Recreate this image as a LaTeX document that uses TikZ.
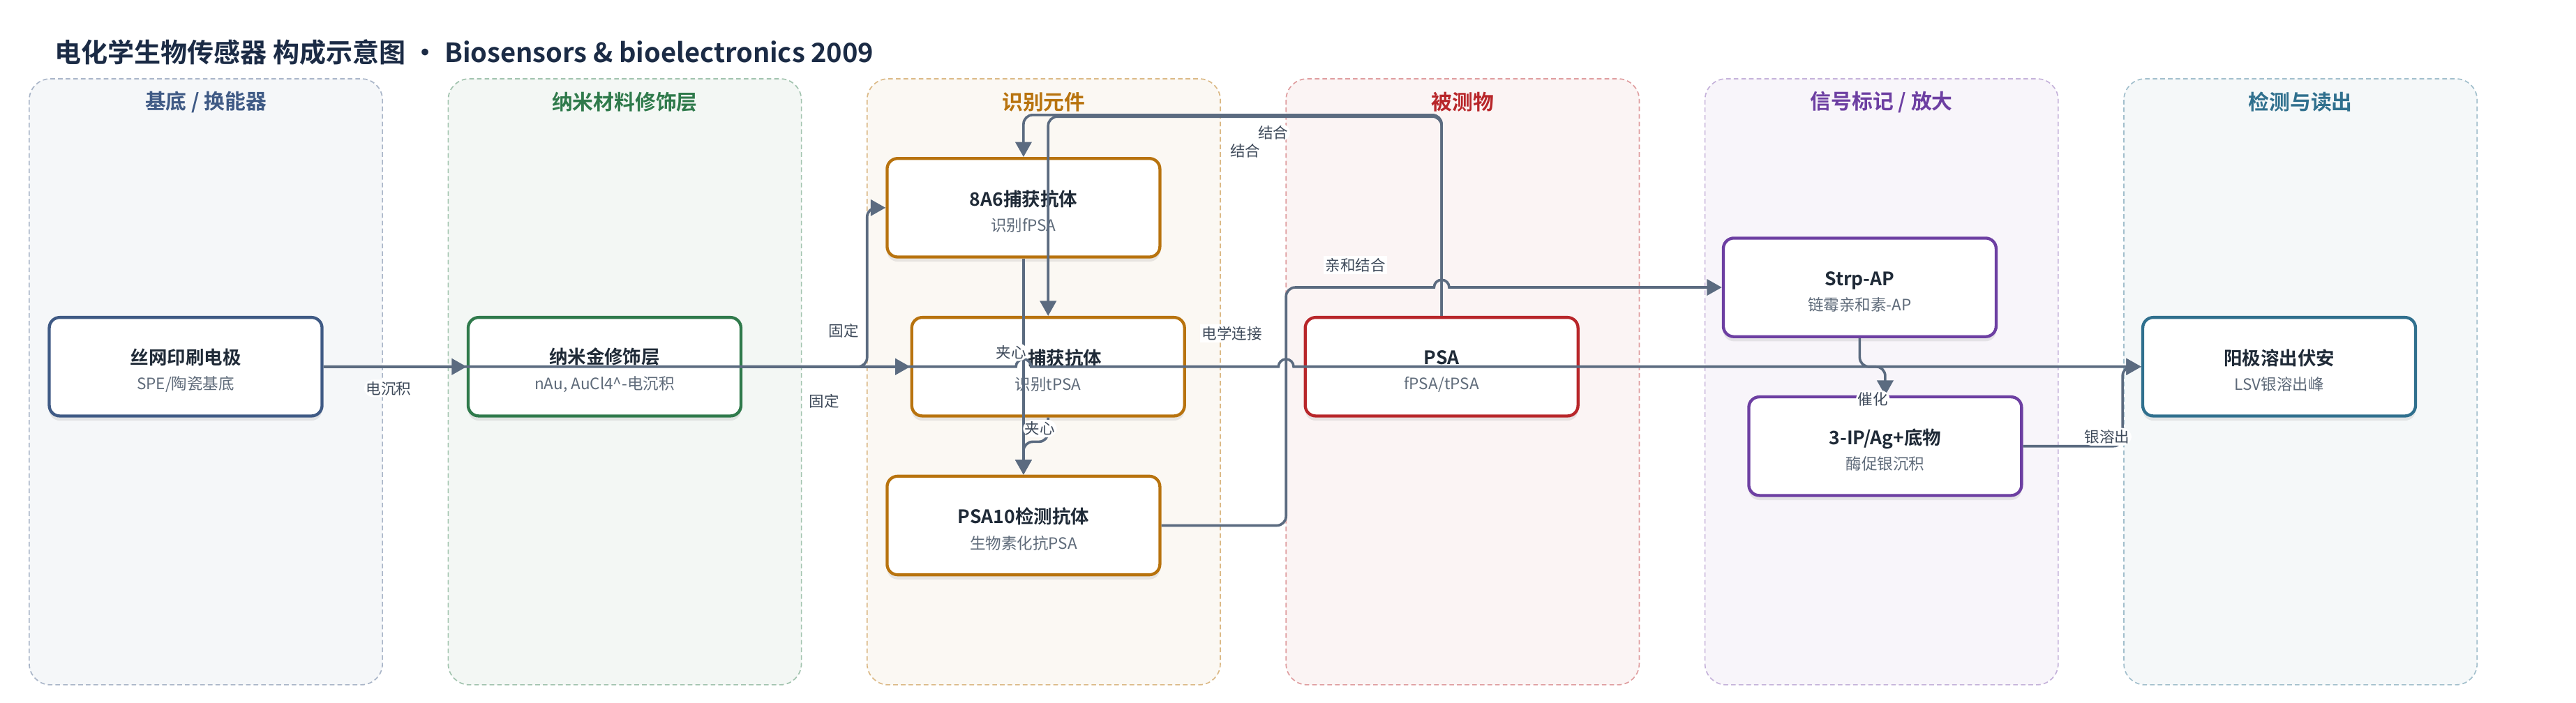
\documentclass[tikz,border=0pt]{standalone}
\usepackage{fontspec}
\setmainfont{Noto Sans CJK SC}[BoldFont={Noto Sans CJK SC Bold}]
\usetikzlibrary{arrows.meta,shadows}
\definecolor{edgec}{HTML}{5B6B80}
\definecolor{labelc}{HTML}{3E4A5A}
\definecolor{headc}{HTML}{1B2B45}
\definecolor{titlec}{HTML}{1F2A37}
\definecolor{subc}{HTML}{5F6B7A}
\definecolor{baseC}{HTML}{3F5A85}
\definecolor{nanoC}{HTML}{2F7A4B}
\definecolor{recoC}{HTML}{B8730E}
\definecolor{anaC}{HTML}{B8262A}
\definecolor{sigC}{HTML}{6D3FA2}
\definecolor{readC}{HTML}{30708E}
\tikzset{
  lane/.style={dash pattern=on 2pt off 1.3pt, line width=0.5pt, rounded corners=0.32cm},
  lanetitle/.style={font=\fontsize{9}{10}\selectfont\bfseries},
  box/.style={draw, fill=white, line width=1.3pt, rounded corners=0.16cm,
    minimum width=4.15cm, minimum height=1.5cm, align=center, inner sep=0pt,
    font=\fontsize{6.8}{9}\selectfont,
    drop shadow={shadow xshift=0pt, shadow yshift=-2pt, opacity=0.16}},
  wire/.style={draw=edgec, line width=1.1pt, rounded corners=4pt},
  tip/.style={-{Triangle[length=6.5pt,width=7pt]}},
  lbl/.style={fill=white, inner sep=0.8pt, text=labelc, font=\fontsize{6.5}{7}\selectfont},
}
\newcommand{\boxtext}[2]{\rule{0pt}{10pt}{\fontsize{8}{9}\selectfont\bfseries\color{titlec}#1}\\[2pt]{\color{subc}#2}}
\begin{document}
\begin{tikzpicture}[x=0.025cm,y=-0.025cm]
\useasboundingbox (0,0) rectangle (1568,428);

\node[anchor=west, inner sep=0pt, text=headc, font=\fontsize{11.5}{13}\selectfont\bfseries] (head) at (33,32)
  {电化学生物传感器 构成示意图 · Biosensors \& bioelectronics 2009};

\draw[lane, draw=baseC!45, fill=baseC!5] (17.8,48) rectangle (232.8,417);
\draw[lane, draw=nanoC!45, fill=nanoC!6] (272.8,48) rectangle (487.8,417);
\draw[lane, draw=recoC!50, fill=recoC!5] (527.8,48) rectangle (742.8,417);
\draw[lane, draw=anaC!45, fill=anaC!5] (782.8,48) rectangle (997.8,417);
\draw[lane, draw=sigC!40, fill=sigC!5] (1037.8,48) rectangle (1252.8,417);
\draw[lane, draw=readC!45, fill=readC!5] (1292.8,48) rectangle (1507.8,417);

\node[lanetitle, text=baseC] (t1) at (125.3,62) {基底 / 换能器};
\node[lanetitle, text=nanoC] (t2) at (380.3,62) {纳米材料修饰层};
\node[lanetitle, text=recoC] (t3) at (635.3,62) {识别元件};
\node[lanetitle, text=anaC] (t4) at (890.3,62) {被测物};
\node[lanetitle, text=sigC] (t5) at (1145.3,62) {信号标记 / 放大};
\node[lanetitle, text=readC] (t6) at (1400.3,62) {检测与读出};

\node[box, draw=baseC] (spe) at (113,223.3) {\boxtext{丝网印刷电极}{SPE/陶瓷基底}};
\node[box, draw=nanoC] (nau) at (368,223.3) {\boxtext{纳米金修饰层}{nAu, AuCl4\textasciicircum-电沉积}};
\node[box, draw=recoC] (cap8) at (623,126.5) {\boxtext{8A6捕获抗体}{识别fPSA}};
\node[box, draw=recoC] (capt) at (638,223.3) {\boxtext{\phantom{5A6}捕获抗体}{识别tPSA}};
\node[box, draw=recoC] (det) at (623,320) {\boxtext{PSA10检测抗体}{生物素化抗PSA}};
\node[box, draw=anaC] (psa) at (877.5,223.3) {\boxtext{PSA}{fPSA/tPSA}};
\node[box, draw=sigC] (strp) at (1132,175) {\boxtext{Strp-AP}{链霉亲和素-AP}};
\node[box, draw=sigC] (sub) at (1147.5,271.7) {\boxtext{3-IP/Ag+底物}{酶促银沉积}};
\node[box, draw=readC] (asv) at (1387.3,223.3) {\boxtext{阳极溶出伏安}{LSV银溶出峰}};

\draw[wire, tip] (spe.east) -- (nau.west) node[lbl] at (236.5,236.5) {电沉积};
\draw[wire, tip] (nau.east) -- (527.8,223.3) -- (527.8,126.5) -- (cap8.west) node[lbl] at (513.5,201.3) {固定};
\draw[wire, tip] (nau.east) -- (capt.west) node[lbl] at (501.6,244.2) {固定};
\draw[wire, tip, sharp corners] (spe.east) -- (618.4,223.3) arc[start angle=180, end angle=0, radius=0.115cm]
  -- (778.2,223.3) arc[start angle=180, end angle=0, radius=0.115cm] -- (asv.west)
  node[lbl] at (750,203) {电学连接};
\draw[wire, tip] (psa.north) |- (623,70) -- (cap8.north) node[lbl] at (775,80.7) {结合};
\draw[wire, tip] (psa.north) |- (638,71) -- (capt.north) node[lbl] at (758,92) {结合};
\draw[wire, tip] (cap8.south) -- (det.north) node[lbl] at (615.5,214.5) {夹心};
\draw[wire, tip] (capt.south) -- (638,269) -- (623,269) -- (det.north) node[lbl] at (633,261) {夹心};
\draw[wire, tip] (det.east) -- (782.8,320) -- (782.8,175) [sharp corners] -- (872.9,175)
  arc[start angle=180, end angle=0, radius=0.115cm] -- (strp.west) node[lbl] at (825,161.4) {亲和结合};
\draw[wire, tip] (strp.south) -- (1132,223.3) -- (1147.5,223.3) -- (sub.north) node[lbl] at (1140,243) {催化};
\draw[wire, tip] (sub.east) -- (1292,271.7) -- (1292,223.3) -- (asv.west) node[lbl] at (1282.6,266) {银溶出};
\end{tikzpicture}
\end{document}
